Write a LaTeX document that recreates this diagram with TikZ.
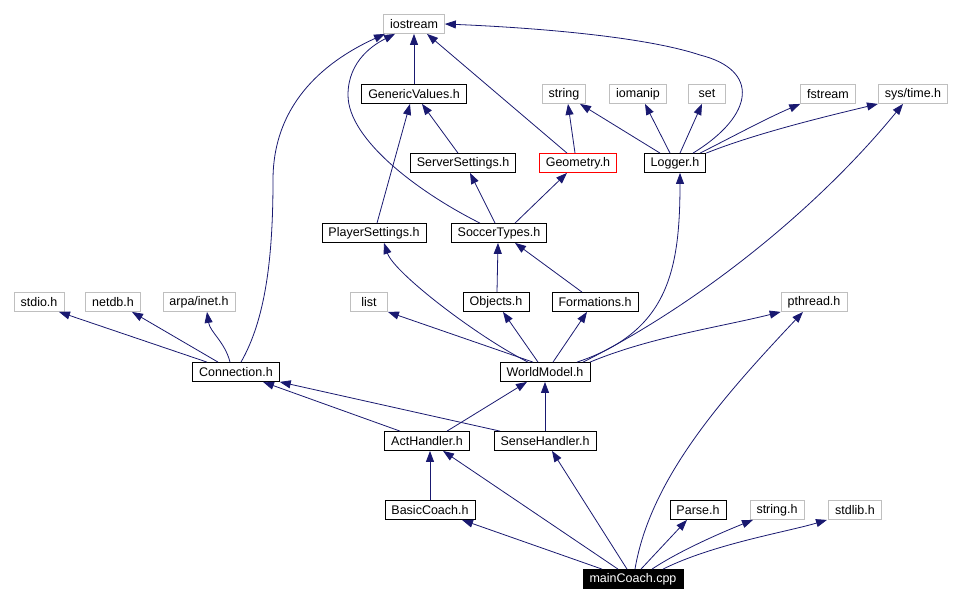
\documentclass[tikz,border=0pt]{standalone}
\usepackage{fontspec}
\setmainfont{Liberation Sans}
\usetikzlibrary{arrows.meta}

\definecolor{edgeblue}{RGB}{25,25,112}
\definecolor{extgray}{RGB}{191,191,191}

\begin{document}
\begin{tikzpicture}[x=1pt, y=-1pt,
    every node/.style={font=\fontsize{12.5}{14}\selectfont, inner xsep=6.5pt, inner ysep=0pt,
        minimum height=19pt, minimum width=37pt, line width=0.8pt},
    incl/.style={draw=black, fill=white},
    sysincl/.style={draw=extgray, fill=white},
    badincl/.style={draw=red, fill=white},
    rootfile/.style={draw=black, fill=black, text=white},
    dep/.style={draw=edgeblue, line width=0.8pt, -{Triangle[length=11pt,width=8pt]}}]
    \useasboundingbox (0,0) rectangle (964,603);

    % files
    \node[sysincl] (iostr) at (414,24) {iostream};
    \node[incl] (genvals) at (414,94) {GenericValues.h};
    \node[sysincl] (strng) at (564,94) {string};
    \node[sysincl] (iomanip) at (638,94) {iomanip};
    \node[sysincl] (setn) at (707,94) {set};
    \node[sysincl] (fstrm) at (828,94) {fstream};
    \node[sysincl] (systime) at (913,94) {sys/time.h};
    \node[incl] (srvset) at (463,163) {ServerSettings.h};
    \node[badincl] (geom) at (578,163) {Geometry.h};
    \node[incl] (logger) at (675,163) {Logger.h};
    \node[incl] (plyset) at (374,233) {PlayerSettings.h};
    \node[incl] (soctypes) at (499,233) {SoccerTypes.h};
    \node[sysincl] (stdio) at (39,302) {stdio.h};
    \node[sysincl] (netdb) at (113,302) {netdb.h};
    \node[sysincl] (arpainet) at (199,302) {arpa/inet.h};
    \node[sysincl] (lst) at (369,302) {list};
    \node[incl] (objs) at (496,302) {Objects.h};
    \node[incl] (forms) at (595,302) {Formations.h};
    \node[sysincl] (pthread) at (814,302) {pthread.h};
    \node[incl] (conn) at (236,372) {Connection.h};
    \node[incl] (wmodel) at (545,372) {WorldModel.h};
    \node[incl] (acth) at (427,441) {ActHandler.h};
    \node[incl] (senseh) at (545,441) {SenseHandler.h};
    \node[incl] (bcoach) at (430,510) {BasicCoach.h};
    \node[incl] (parse) at (698,510) {Parse.h};
    \node[sysincl] (stringh) at (777,510) {string.h};
    \node[sysincl] (stdlib) at (855,510) {stdlib.h};
    \node[rootfile] (maincoach) at (633,579) {mainCoach.cpp};

    % mainCoach.cpp
    \draw[dep] ([xshift=-31pt]maincoach.north) -- ([xshift=32pt]bcoach.south);
    \draw[dep] ([xshift=-15pt]maincoach.north) -- ([xshift=16pt]acth.south);
    \draw[dep] ([xshift=-6pt]maincoach.north) -- ([xshift=7pt]senseh.south);
    \draw[dep] ([xshift=2pt]maincoach.north) .. controls +(15,-89) and +(-83,88) .. ([xshift=-11pt]pthread.south);
    \draw[dep] ([xshift=8pt]maincoach.north) -- ([xshift=-11pt]parse.south);
    \draw[dep] ([xshift=19pt]maincoach.north) .. controls +(30,-20) and +(-25,10) .. ([xshift=-24pt]stringh.south);
    \draw[dep] ([xshift=30pt]maincoach.north) .. controls +(50,-25) and +(-40,12) .. ([xshift=-28pt]stdlib.south);

    % handlers
    \draw[dep] (bcoach.north) -- ([xshift=3pt]acth.south);
    \draw[dep] ([xshift=-27pt]acth.north) -- ([xshift=27pt]conn.south);
    \draw[dep] ([xshift=20pt]acth.north) -- ([xshift=-18pt]wmodel.south);
    \draw[dep] ([xshift=-45pt]senseh.north) -- (conn.south east);
    \draw[dep] (senseh.north) -- (wmodel.south);

    % Connection.h
    \draw[dep] ([xshift=-29pt]conn.north) -- ([xshift=20pt]stdio.south);
    \draw[dep] ([xshift=-18pt]conn.north) -- ([xshift=19pt]netdb.south);
    \draw[dep] ([xshift=-6pt]conn.north) .. controls +(-5,-20) and +(3,20) .. ([xshift=8pt]arpainet.south);
    \draw[dep] ([xshift=5pt]conn.north) .. controls +(24,-42) and +(0,80) .. (273,180)
        .. controls +(0,-80) and +(-55,25) .. ([xshift=-29pt]iostr.south);

    % WorldModel.h
    \draw[dep] ([xshift=-12pt]wmodel.north) -- (lst.south east);
    \draw[dep] ([xshift=-17pt]wmodel.north) .. controls +(-50,-25) and +(10,30) .. ([xshift=10pt]plyset.south);
    \draw[dep] ([xshift=-7pt]wmodel.north) -- ([xshift=7pt]objs.south);
    \draw[dep] ([xshift=8pt]wmodel.north) -- ([xshift=-8pt]forms.south);
    \draw[dep] ([xshift=32pt]wmodel.north) .. controls +(90,-30) and +(0,100) .. ([xshift=5pt]logger.south);
    \draw[dep] ([xshift=38pt]wmodel.north) .. controls +(110,-55) and +(-90,110) .. ([xshift=-10pt]systime.south);
    \draw[dep] ([xshift=45pt]wmodel.north) .. controls +(60,-25) and +(-60,15) .. (pthread.south west);

    % Objects.h, Formations.h
    \draw[dep] ([xshift=1pt]objs.north) -- ([xshift=-1pt]soctypes.south);
    \draw[dep] ([xshift=-13pt]forms.north) -- ([xshift=16pt]soctypes.south);

    % SoccerTypes.h
    \draw[dep] ([xshift=-4pt]soctypes.north) -- ([xshift=7pt]srvset.south);
    \draw[dep] ([xshift=16pt]soctypes.north) -- ([xshift=-11pt]geom.south);
    \draw[dep] ([xshift=-19pt]soctypes.north) .. controls +(-60,-30) and +(0,45) .. (348,95)
        .. controls +(0,-35) and +(-20,10) .. ([xshift=-19pt]iostr.south);

    % settings
    \draw[dep] ([xshift=3pt]plyset.north) -- ([xshift=-4pt]genvals.south);
    \draw[dep] ([xshift=-5pt]srvset.north) -- ([xshift=8pt]genvals.south);
    \draw[dep] (genvals.north) -- (iostr.south);

    % Geometry.h
    \draw[dep] ([xshift=-11pt]geom.north) -- ([xshift=13pt]iostr.south);
    \draw[dep] ([xshift=-3pt]geom.north) -- ([xshift=4pt]strng.south);

    % Logger.h
    \draw[dep] ([xshift=-15pt]logger.north) -- ([xshift=16pt]strng.south);
    \draw[dep] ([xshift=-5pt]logger.north) -- ([xshift=7pt]iomanip.south);
    \draw[dep] ([xshift=5pt]logger.north) -- ([xshift=-5pt]setn.south);
    \draw[dep] ([xshift=25pt]logger.north) .. controls +(30,-15) and +(-35,15) .. (fstrm.south west);
    \draw[dep] (logger.north east) .. controls +(50,-20) and +(-50,12) .. (systime.south west);
    \draw[dep] ([xshift=18pt]logger.north) .. controls +(62,-38) and +(60,15) .. (700,55)
        .. controls +(-60,-20) and +(74,3) .. (iostr.east);
\end{tikzpicture}
\end{document}
